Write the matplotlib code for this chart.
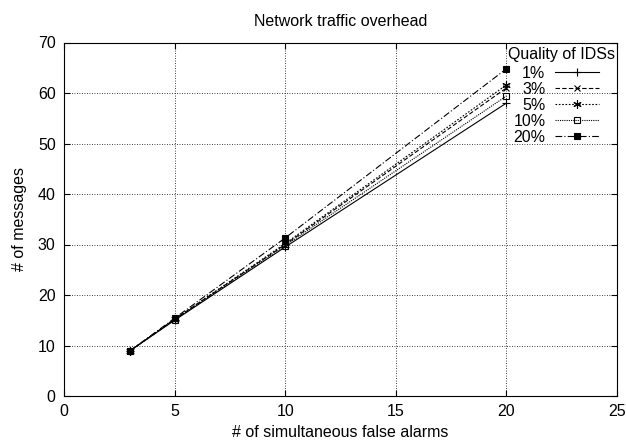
import matplotlib
matplotlib.use("Agg")
import matplotlib.pyplot as plt

x = [3, 5, 10, 20]
labels = ["1%", "3%", "5%", "10%", "20%"]
s1 = [9, 15.0, 29.5, 58.0]
s3 = [9, 15.2, 30.0, 61.0]
s5 = [9, 15.2, 30.2, 61.6]
s10 = [9, 15.1, 29.8, 59.4]
s20 = [9, 15.4, 31.3, 64.8]
series = [s1, s3, s5, s10, s20]

plt.rcParams['font.family'] = ['Liberation Sans', 'DejaVu Sans']
fig = plt.figure(figsize=(6.26, 4.42), dpi=100)
L, R, T, B = 64, 617, 42.5, 396
ax = fig.add_axes([L/626, 1-B/442, (R-L)/626, (B-T)/442])

styles = [
    dict(linestyle='-', marker='+', ms=6, mfc='none'),
    dict(linestyle=(0, (4, 2)), marker='x', ms=5, mfc='none'),
    dict(linestyle=(0, (1.5, 1.5)), marker=(6, 2, 0), ms=6, mfc='none'),
    dict(linestyle=(0, (1, 1)), marker='s', ms=5, mfc='none'),
    dict(linestyle=(0, (6, 2, 1, 2)), marker='s', ms=5, mfc='black'),
]
for lab, s, st in zip(labels, series, styles):
    ax.plot(x, s, color='black', lw=0.8, mec='black', mew=0.8, label=lab, **st)

fs = 11.5
ax.set_xlim(0, 25)
ax.set_ylim(0, 70)
ax.set_xticks([0, 5, 10, 15, 20, 25])
ax.set_yticks(range(0, 71, 10))
ax.grid(True, color='black', linestyle=(0, (1, 2)), lw=0.6)
ax.tick_params(direction='in', length=4, labelsize=fs, top=True, right=True, pad=6)
ax.set_xlabel('# of simultaneous false alarms', fontsize=fs, labelpad=4)
ax.set_ylabel('# of messages', fontsize=fs, labelpad=8)
ax.set_title('Network traffic overhead', fontsize=fs, pad=12)
for sp in ax.spines.values():
    sp.set_linewidth(0.8)

W, H = R - L, B - T
ax.text((615 - L) / W, (B - 55) / H, 'Quality of IDSs', transform=ax.transAxes,
        ha='right', va='center', fontsize=fs)
leg = ax.legend(loc='upper right', bbox_to_anchor=((599 - L) / W, (B - 65.5) / H),
                frameon=False, markerfirst=False, fontsize=fs,
                handlelength=2.75, borderaxespad=0.0, labelspacing=0.07,
                handletextpad=0.6, borderpad=0.0)
for t in leg.get_texts():
    t.set_ha('right')
leg._legend_box.align = 'right'

fig.savefig('out.png', dpi=100)
